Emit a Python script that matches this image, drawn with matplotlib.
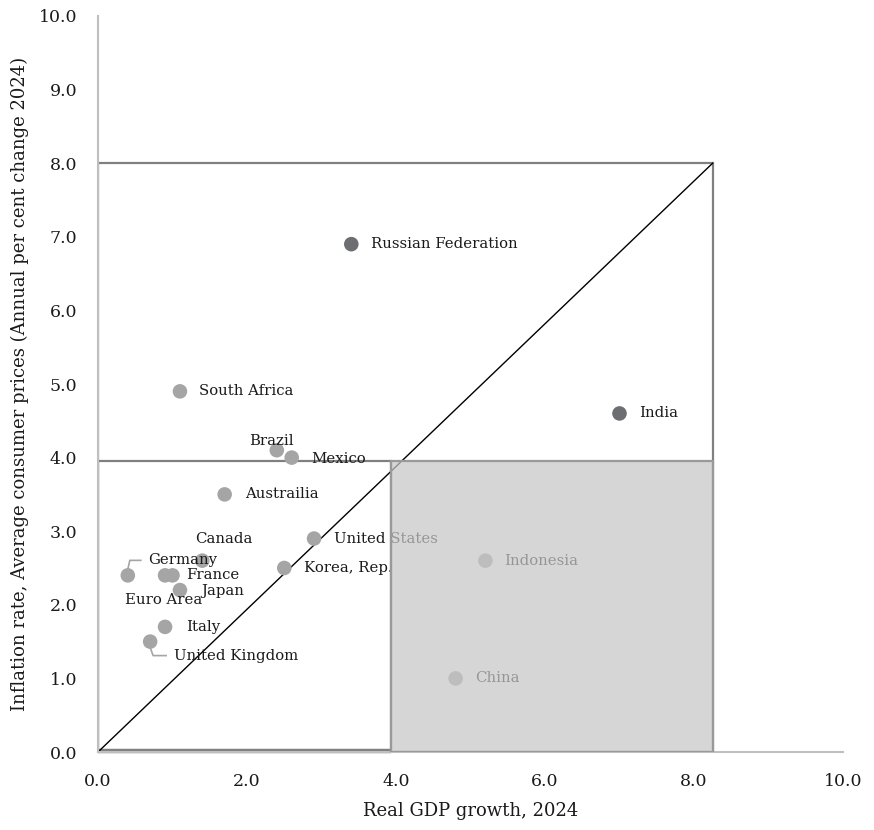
import matplotlib
matplotlib.use("Agg")
import matplotlib.pyplot as plt
from matplotlib.patches import Rectangle

# ---- data ----
countries = ["Russian Federation", "India", "South Africa", "Brazil", "Mexico",
             "Austrailia", "United States", "Canada", "Korea, Rep.", "Indonesia",
             "China", "Germany", "Euro Area", "France", "Japan", "Italy",
             "United Kingdom"]
gdp_growth = [3.4, 7.0, 1.1, 2.4, 2.6, 1.7, 2.9, 1.4, 2.5, 5.2, 4.8, 0.4, 0.9,
              1.0, 1.1, 0.9, 0.7]
inflation = [6.9, 4.6, 4.9, 4.1, 4.0, 3.5, 2.9, 2.6, 2.5, 2.6, 1.0, 2.4, 2.4,
             2.4, 2.2, 1.7, 1.5]
highlight = ["Russian Federation", "India"]

x_ticks = [0, 2, 4, 6, 8, 10]
y_ticks = [0, 1, 2, 3, 4, 5, 6, 7, 8, 9, 10]
zone_x = [0, 3.93, 8.25]
zone_y = [0, 3.96, 8.0]

# ---- label placement (pixel offsets, alignment) ----
label_pos = {
    "Russian Federation": (20, 0, "left", "center"),
    "India": (20, 0, "left", "center"),
    "South Africa": (19, 0, "left", "center"),
    "Brazil": (-5, 9, "center", "center"),
    "Mexico": (20, -1, "left", "center"),
    "Austrailia": (20, 0, "left", "center"),
    "United States": (20, 0, "left", "center"),
    "Canada": (22, 22, "center", "center"),
    "Korea, Rep.": (20, 0, "left", "center"),
    "Indonesia": (19, 0, "left", "center"),
    "China": (20, 0, "left", "center"),
    "Germany": (20, 15, "left", "center"),
    "Euro Area": (-1, -25, "center", "center"),
    "France": (14, 0, "left", "center"),
    "Japan": (21, -1, "left", "center"),
    "Italy": (21, 0, "left", "center"),
    "United Kingdom": (24, -14, "left", "center"),
}

FONT = "DejaVu Serif"
plt.rcParams["font.family"] = [FONT]

fig = plt.figure(figsize=(8.74, 8.30), dpi=100)
ax = fig.add_axes([98 / 874, 78 / 830, (843 - 98) / 874, (752 - 16) / 830])
ax.set_xlim(0, 10)
ax.set_ylim(0, 10)

# zones
ax.add_patch(Rectangle((zone_x[0], zone_y[0]), zone_x[2] - zone_x[0], zone_y[2] - zone_y[0],
                       facecolor="white", edgecolor="#808080", lw=1.6, zorder=1))
ax.add_patch(Rectangle((zone_x[0], zone_y[0]), zone_x[1] - zone_x[0], zone_y[1] - zone_y[0],
                       facecolor="none", edgecolor="#808080", lw=1.6, zorder=1.5))
ax.plot([zone_x[0], zone_x[1]], [zone_y[0] + 0.02, zone_y[0] + 0.02], color="#808080",
        lw=3.2, zorder=1.6, solid_capstyle="butt", clip_on=False)
ax.plot([zone_x[0], zone_x[2]], [zone_y[0], zone_y[2]], color="black", lw=1.0, zorder=2)

# points
colors = ["#6d6e71" if c in highlight else "#a5a5a5" for c in countries]
ax.scatter(gdp_growth, inflation, s=110, c=colors, edgecolors="none", zorder=3)

for name, gx, iy in zip(countries, gdp_growth, inflation):
    dx, dy, ha, va = label_pos[name]
    ax.annotate(name, (gx, iy), xytext=(dx, dy), textcoords="offset pixels",
                ha=ha, va=va, fontsize=10.7, color="#1a1a1a", zorder=4)

# leader lines (Germany, United Kingdom)
for name, pts in [("Germany", [(0, 6), (2, 15), (13, 15)]),
                  ("United Kingdom", [(0, -6), (3, -14), (16, -14)])]:
    i = countries.index(name)
    x0, y0 = ax.transData.transform((gdp_growth[i], inflation[i]))
    xs, ys = [], []
    for px, py in pts:
        dx_, dy_ = ax.transData.inverted().transform((x0 + px, y0 + py))
        xs.append(dx_)
        ys.append(dy_)
    ax.plot(xs, ys, color="#a5a5a5", lw=1.2, zorder=2.5)

# shaded overlay zone
ax.add_patch(Rectangle((zone_x[1], zone_y[0]), zone_x[2] - zone_x[1], zone_y[1] - zone_y[0],
                       facecolor="#c7c7c7", alpha=0.72, edgecolor="none", zorder=5))
ax.add_patch(Rectangle((zone_x[1], zone_y[0]), zone_x[2] - zone_x[1], zone_y[1] - zone_y[0],
                       facecolor="none", edgecolor="#999999", lw=1.6, zorder=5.1))

# axes styling
for s in ["top", "right"]:
    ax.spines[s].set_visible(False)
for s in ["left", "bottom"]:
    ax.spines[s].set_color("#bfbfbf")
    ax.spines[s].set_linewidth(1.5)
ax.set_xticks(x_ticks)
ax.set_yticks(y_ticks)
ax.set_xticklabels([f"{v:.1f}" for v in x_ticks], fontsize=12.5)
ax.set_yticklabels([f"{v:.1f}" for v in y_ticks], fontsize=12.5)
ax.tick_params(axis="both", length=0, colors="#1a1a1a")
ax.tick_params(axis="y", pad=15)
ax.tick_params(axis="x", pad=15)
ax.set_xlabel("Real GDP growth, 2024", fontsize=13, color="#1a1a1a", labelpad=9)
ax.set_ylabel("Inflation rate, Average consumer prices (Annual per cent change 2024)",
              fontsize=13, color="#1a1a1a", labelpad=7)

fig.savefig("out.png", dpi=100)
